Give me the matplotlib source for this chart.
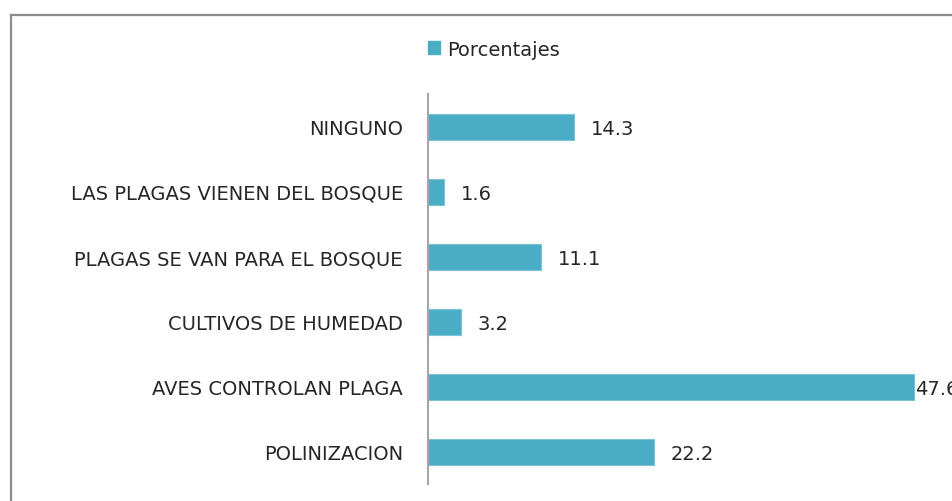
import matplotlib.pyplot as plt
from matplotlib.lines import Line2D
from matplotlib.patches import Patch

# --- Data ---
categorias = [
    "NINGUNO",
    "LAS PLAGAS VIENEN DEL BOSQUE",
    "PLAGAS SE VAN PARA EL BOSQUE",
    "CULTIVOS DE HUMEDAD",
    "AVES CONTROLAN PLAGA",
    "POLINIZACION",
]
porcentajes = [14.3, 1.6, 11.1, 3.2, 47.6, 22.2]
serie = "Porcentajes"

plt.rcParams['font.family'] = ['DejaVu Sans']

W, H = 953, 502
fig = plt.figure(figsize=(W / 100, H / 100), dpi=100)

# axes placed in pixel terms
left, right = 428, 428 + 10.2 * 50
top, bottom = 95, 485
ax = fig.add_axes([left / W, 1 - bottom / H, (right - left) / W, (bottom - top) / H])

color = '#4BACC6'
txt = '#262626'
fs = 14
pos = list(range(len(categorias)))
ax.barh(pos, porcentajes, height=0.4, color=color, edgecolor='#7CC3D6', linewidth=0.8)

ax.set_xlim(0, 50)
ax.set_ylim(len(categorias) - 0.5, -0.5)
ax.set_yticks(pos)
ax.set_yticklabels(categorias, fontsize=fs, color=txt)
ax.tick_params(axis='y', length=0, pad=18)
ax.set_xticks([])
for s in ['top', 'right', 'bottom']:
    ax.spines[s].set_visible(False)
ax.spines['left'].set_color('#A6A6A6')
ax.spines['left'].set_linewidth(1.5)

# value labels (the longest bar's label sits right at the bar end)
vmax = max(porcentajes)
for p, v in zip(pos, porcentajes):
    off = 1 if v == vmax else 12
    ax.annotate(f"{v}", xy=(v, p), xytext=(off, -1.5), textcoords='offset points',
                ha='left', va='center', fontsize=fs, color=txt,
                annotation_clip=False)

# legend
fig.legend(handles=[Patch(facecolor=color, edgecolor=color)], labels=[serie],
           loc='center', bbox_to_anchor=(494 / W, 1 - 50 / H), frameon=False,
           fontsize=fs, handlelength=0.6, handleheight=0.6, handletextpad=0.4,
           labelcolor=txt)

# chart border (partly cropped)
bx, by = 11 / W, 1 - 16 / H
fig.add_artist(Line2D([bx, 1.01], [by, by], color='#8C8C8C', linewidth=1.6))
fig.add_artist(Line2D([bx, bx], [-0.01, by], color='#8C8C8C', linewidth=1.6))

fig.savefig("out.png", dpi=100)
